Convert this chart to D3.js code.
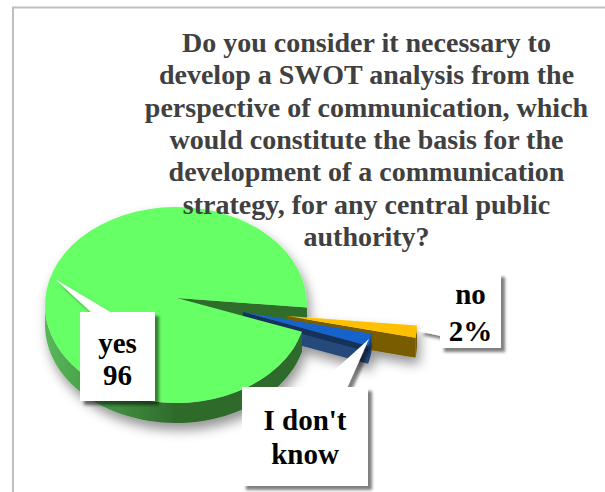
<!DOCTYPE html>
<html>
<head>
<meta charset="utf-8">
<script src="https://cdn.jsdelivr.net/npm/d3@7"></script>
<style>
  html, body { margin: 0; padding: 0; background: #fff; }
  svg { display: block; }
  text { font-family: "Liberation Serif", serif; font-weight: bold; text-anchor: middle; }
</style>
</head>
<body>
<svg id="chart" width="605" height="492"></svg>
<script>
// Survey answers, in the order the slices run clockwise
const categories = ["yes", "no", "I don't know"];
const answerValues = [96, 2, 2];
const calloutLines = [["yes", "96"], ["no", "2%"], ["I don't", "know"]];
const titleLines = [
  "Do you consider it necessary to",
  "develop a SWOT analysis from the",
  "perspective of communication, which",
  "would constitute the basis for the",
  "development of a communication",
  "strategy, for any central public",
  "authority?"
];

const W = 605, H = 492;
const svg = d3.select("#chart").attr("viewBox", [0, 0, W, H]);
const defs = svg.append("defs");

const softShadow = (id, dx, dy, sd, op) => defs.append("filter")
  .attr("id", id).attr("x", "-30%").attr("y", "-30%").attr("width", "170%").attr("height", "170%")
  .append("feDropShadow")
  .attr("dx", dx).attr("dy", dy).attr("stdDeviation", sd)
  .attr("flood-color", "#000").attr("flood-opacity", op);
softShadow("pieShadow", 3, 7, 6, 0.42);
softShadow("boxShadow", 4, 4, 1.6, 0.5);

const sideGrad = defs.append("linearGradient").attr("id", "greenSide")
  .attr("gradientUnits", "userSpaceOnUse")
  .attr("x1", 45).attr("x2", 175).attr("y1", 0).attr("y2", 0);
sideGrad.append("stop").attr("offset", 0).attr("stop-color", "#58b858");
sideGrad.append("stop").attr("offset", 1).attr("stop-color", "#2e6b2c");

// Tilted pie geometry: an ellipse whose apex sits above its centre
const cx = 176, cy = 305, rx = 131, ry = 98;
const apex = [177, 298];
const depth = 20;
const rad = deg => deg * Math.PI / 180;
const rim = a => [cx + rx * Math.sin(a), cy - ry * Math.cos(a)];

const slices = d3.pie().sort(null).startAngle(rad(105.9)).endAngle(rad(105.9) + 2 * Math.PI)(answerValues);
const [yes, no, dk] = slices;

const path = d3.line();
const arcPts = (a0, a1) => d3.range(0, 61).map(i => rim(a0 + (a1 - a0) * i / 60));
const move = (pts, dx, dy) => pts.map(([x, y]) => [x + dx, y + dy]);
const closed = pts => path(pts) + "Z";

const pie = svg.append("g").attr("filter", "url(#pieShadow)");
const draw = (pts, fill, g = pie) => g.append("path").attr("d", closed(pts)).attr("fill", fill);

// Side band along the front of a slice, between two angles
const band = (a0, a1, dx, dy) => {
  const top = move(arcPts(a0, a1), dx, dy);
  return top.concat(move(top, 0, depth).reverse());
};
// Cut face that falls from a radial edge
const cutFace = (a, dx, dy, d) => {
  const e = [[apex[0] + dx, apex[1] + dy], [rim(a)[0] + dx, rim(a)[1] + dy]];
  return e.concat(move(e, 0, d).reverse());
};
const face = (s, dx, dy) => [[apex[0] + dx, apex[1] + dy]].concat(move(arcPts(s.startAngle, s.endAngle), dx, dy));

// Main slice: the wall of the notch sits behind the top face
draw(cutFace(no.startAngle, 0, 0, depth), "#2e6e2c");

// "no" slice, pulled furthest out
const noOff = [110, 18];
draw(cutFace(no.endAngle, ...noOff, depth), "#7a5c00");
draw(band(no.startAngle, no.endAngle, ...noOff), "#6e5300");
draw(face(no, ...noOff), "#ffc000");

// "I don't know" slice
const dkOff = [66, 14];
draw(cutFace(dk.endAngle, ...dkOff, depth - 2), "#27487c");
draw(cutFace(dk.endAngle, ...dkOff, 6), "#16315a");
draw(band(dk.startAngle, dk.endAngle, ...dkOff).map(([x, y]) => [x, y - 2]), "#1d4278");
draw(face(dk, ...dkOff), "#1763ce");

// Front wall and top of the large slice
draw(band(yes.startAngle, rad(272), 0, 0), "url(#greenSide)");
draw(face(yes, 0, 0), "#66ff66");

// Page frame
svg.append("path").attr("d", `M${W},7.5H13V${H}`).attr("fill", "none")
  .attr("stroke", "#bfbfbf").attr("stroke-width", 2);

// Title
svg.append("g").selectAll("text").data(titleLines).join("text")
  .attr("x", 366.5).attr("y", (d, i) => 52 + i * 32.3)
  .attr("font-size", 28).attr("fill", "#404040").text(d => d);

// Callouts: box with a pointer running to its slice; the pointer base tucks just inside the box
const callouts = [
  { box: [80, 312, 155, 401], ptr: [[92, 313], [55, 279], [112, 313]], baseY: [353, 385] },
  { box: [440, 273, 501, 348], ptr: [[441, 317], [418, 331], [441, 336]], baseY: [304, 341] },
  { box: [242, 387, 368, 486], ptr: [[315, 388], [369, 339], [347, 388]], baseY: [430, 464] }
];
const labels = svg.append("g");
callouts.forEach((c, i) => {
  const [x0, y0, x1, y1] = c.box;
  const g = labels.append("g").attr("filter", "url(#boxShadow)");
  g.append("rect").attr("x", x0).attr("y", y0).attr("width", x1 - x0).attr("height", y1 - y0).attr("fill", "#fff");
  g.append("path").attr("d", `M${c.ptr.join("L")}Z`).attr("fill", "#fff");
  labels.append("g").selectAll("text").data(calloutLines[i]).join("text")
    .attr("x", (x0 + x1) / 2).attr("y", (d, j) => c.baseY[j])
    .attr("font-size", 29).attr("fill", "#000").text(d => d);
});
</script>
</body>
</html>
